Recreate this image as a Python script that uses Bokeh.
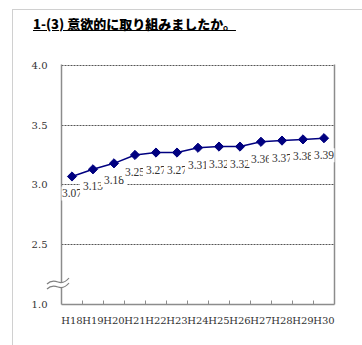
from bokeh.plotting import figure
from bokeh.models import FixedTicker, LinearAxis, Label, Div, Range1d
from bokeh.layouts import column
from bokeh.embed import file_html
from bokeh.resources import INLINE

title_text = "1-(3) 意欲的に取り組みましたか。"
years = ["H18", "H19", "H20", "H21", "H22", "H23", "H24", "H25", "H26", "H27", "H28", "H29", "H30"]
values = [3.07, 3.13, 3.18, 3.25, 3.27, 3.27, 3.31, 3.32, 3.32, 3.36, 3.37, 3.38, 3.39]
value_labels = ["3.07", "3.13", "3.18", "3.25", "3.27", "3.27", "3.31", "3.32", "3.32", "3.36", "3.37", "3.38", "3.39"]
# broken axis: the lowest tick position carries the label "1.0"
y_tick_positions = [2.0, 2.5, 3.0, 3.5, 4.0]
y_tick_labels = ["1.0", "2.5", "3.0", "3.5", "4.0"]

xs = list(range(len(years)))

GRAY = "#8c8c8c"
TXT = "#333333"

p = figure(width=349, height=295, x_range=Range1d(-0.5, len(years) - 0.5),
           y_range=Range1d(2.0, 4.006), output_backend="svg", toolbar_location=None,
           min_border_left=48, min_border_right=28, min_border_top=14, min_border_bottom=41,
           outline_line_color=None, background_fill_color="white", border_fill_color="white")

p.line(xs, values, line_color="#000080", line_width=1.5)
p.scatter(xs, values, marker="square", size=6.5, angle=0.785398, fill_color="#000080", line_color="#000080")

# axes
p.xaxis.ticker = FixedTicker(ticks=xs, minor_ticks=[x + 0.5 for x in xs[:-1]])
p.xaxis.major_label_overrides = {x: y for x, y in zip(xs, years)}
p.xaxis.major_tick_line_color = None
p.xaxis.minor_tick_in = 4
p.xaxis.minor_tick_out = 0
p.xaxis.minor_tick_line_color = GRAY
p.xaxis.axis_line_color = GRAY
p.xaxis.axis_line_width = 1.5
p.xaxis.major_label_standoff = 4
p.xaxis.major_label_text_font = "DejaVu Serif"
p.xaxis.major_label_text_font_size = "10px"
p.xaxis.major_label_text_color = TXT

p.yaxis.ticker = FixedTicker(ticks=y_tick_positions)
p.yaxis.major_label_overrides = {(int(v) if float(v).is_integer() else v): lab
                                 for v, lab in zip(y_tick_positions, y_tick_labels)}
p.yaxis.major_tick_line_color = None
p.yaxis.minor_tick_line_color = None
p.yaxis.axis_line_color = GRAY
p.yaxis.axis_line_width = 1.5
p.yaxis.major_label_standoff = 8
p.yaxis.major_label_text_font = "DejaVu Serif"
p.yaxis.major_label_text_font_size = "10px"
p.yaxis.major_label_text_color = TXT

right_axis = LinearAxis(major_tick_line_color=None, minor_tick_line_color=None,
                        major_label_text_font_size="0px", axis_line_color=GRAY,
                        axis_line_width=1.5, ticker=FixedTicker(ticks=[]))
p.add_layout(right_axis, "right")

p.xgrid.grid_line_color = None
p.ygrid.ticker = FixedTicker(ticks=y_tick_positions[1:])
p.ygrid.grid_line_color = "#555555"
p.ygrid.grid_line_dash = "2 1"
p.ygrid.grid_line_width = 1

# data labels below points
for x, v, lab in zip(xs, values, value_labels):
    p.add_layout(Label(x=x, y=v, text=lab, y_offset=-17, text_align="center",
                       text_baseline="middle", text_font="Liberation Serif",
                       text_font_size="11.5px", text_color=TXT,
                       background_fill_color="white", padding=3))

title_div = Div(text=('<div style="padding:5px 0 0 20px; font-family:\'Noto Sans CJK JP\';'
                      'font-size:13px; font-weight:900; text-decoration:underline; color:#000;">'
                      + title_text + '</div>'),
                width=349, height=40, margin=(0, 0, 0, 0))

# axis-break mark drawn across the y axis line
break_svg = ('<svg width="26" height="16" xmlns="http://www.w3.org/2000/svg">'
             '<path d="M2,8 C6,4 10,5 13,6 C16,7 20,7 24,2 L24,7 C20,12 16,12 13,11 C10,10 6,9 2,13 Z" '
             'fill="white" stroke="none"/>'
             '<path d="M2,8 C6,4 10,5 13,6 C16,7 20,7 24,2" fill="none" stroke="#808080" stroke-width="1.2"/>'
             '<path d="M2,13 C6,9 10,10 13,11 C16,12 20,12 24,7" fill="none" stroke="#808080" stroke-width="1.2"/>'
             '</svg>')
break_div = Div(text=break_svg, width=26, height=16, margin=(0, 0, 0, 0),
                styles={"position": "absolute", "left": "32px", "top": "266px", "z-index": "10"})

layout = column(title_div, p, break_div, margin=(9, 0, 0, 12), spacing=0,
                styles={"border-left": "1px solid #d0d0d0", "border-top": "1px solid #d0d0d0",
                        "position": "relative"})

open("out.html", "w").write(file_html(layout, INLINE))
